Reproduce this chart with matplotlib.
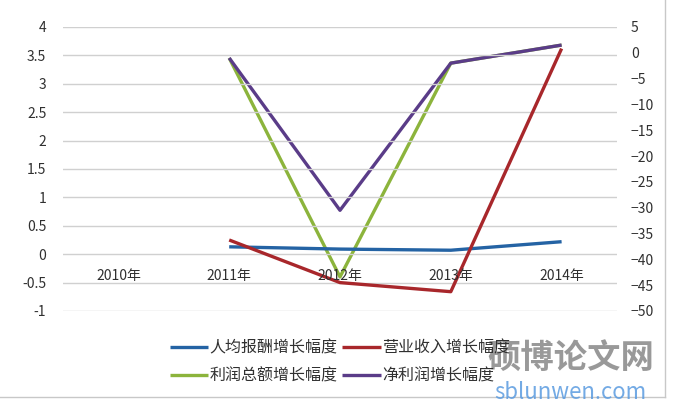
import matplotlib
matplotlib.use('Agg')
import matplotlib.pyplot as plt
from matplotlib.lines import Line2D

plt.rcParams['font.family'] = ['Noto Sans CJK SC', 'DejaVu Sans']

years = ['2010年', '2011年', '2012年', '2013年', '2014年']
# left axis series (2010 has no value)
renjun = [None, 0.13, 0.09, 0.07, 0.22]
yingye = [None, 0.25, -0.50, -0.66, 3.62]
# right axis series
lirun = [None, -1.0, -43.4, -2.0, 1.5]
jinglirun = [None, -1.0, -30.5, -2.0, 1.5]

left_ticks = [-1, -0.5, 0, 0.5, 1, 1.5, 2, 2.5, 3, 3.5, 4]
right_ticks = [-50, -45, -40, -35, -30, -25, -20, -15, -10, -5, 0, 5]

c_blue = '#2463a4'
c_red = '#a8272b'
c_green = '#8cb43c'
c_purple = '#5a3c88'

fig = plt.figure(figsize=(6.73, 4.11), dpi=100)
ax = fig.add_axes([63 / 673, 1 - 311 / 411, 554 / 673, 284 / 411])
ax2 = ax.twinx()

x = list(range(len(years)))


def pts(vals):
    xs = [i for i, v in zip(x, vals) if v is not None]
    ys = [v for v in vals if v is not None]
    return xs, ys


l2, = ax2.plot(*pts(lirun), color=c_green, lw=2.4, solid_capstyle='butt')
l4, = ax2.plot(*pts(jinglirun), color=c_purple, lw=2.4, solid_capstyle='butt')
l1, = ax.plot(*pts(renjun), color=c_blue, lw=2.4, solid_capstyle='butt')
l3, = ax.plot(*pts(yingye), color=c_red, lw=2.4, solid_capstyle='butt')
ax.set_zorder(ax2.get_zorder() + 1)
ax.patch.set_visible(False)

ax.set_xlim(-0.5, 4.5)
ax.set_ylim(-1, 4)
ax2.set_ylim(-50, 5)
ax.set_yticks(left_ticks)
ax.set_yticklabels([('%g' % t) for t in left_ticks])
ax2.set_yticks(right_ticks)
ax.set_xticks([])
ax.grid(axis='y', color='#d0d0d0', lw=1)
for a in (ax, ax2):
    for s in a.spines.values():
        s.set_visible(False)
    a.tick_params(length=0, labelsize=10, colors='#303030')
ax.tick_params(axis='y', pad=12)
ax2.tick_params(axis='y', pad=10)

for i, yr in enumerate(years):
    ax.text(i, -0.38, yr, ha='center', va='center', fontsize=10, color='#303030')

fig.legend([l1, l2, l3, l4], ['人均报酬增长幅度', '利润总额增长幅度', '营业收入增长幅度', '净利润增长幅度'],
           loc='center', bbox_to_anchor=(340 / 673, 1 - 362 / 411), ncol=2, frameon=False,
           fontsize=11.5, handlelength=2.4, handletextpad=0.1, columnspacing=0.3,
           labelspacing=0.7, labelcolor='#303030')

# watermark
fig.text(571 / 673, 1 - 358 / 411, '硕博论文网', ha='center', va='center', fontsize=24,
         color='#808080', alpha=0.8, fontweight='bold')
fig.text(570 / 673, 1 - 392 / 411, 'sblunwen.com', ha='center', va='center', fontsize=16,
         color='#5a9be0', alpha=0.85)

# chart frame
fig.add_artist(Line2D([665 / 673, 665 / 673], [1 - 397 / 411, 1], color='#c8c8c8', lw=1))
fig.add_artist(Line2D([0, 665 / 673], [1 - 397 / 411, 1 - 397 / 411], color='#c8c8c8', lw=1))

fig.savefig('out.png', dpi=100)
